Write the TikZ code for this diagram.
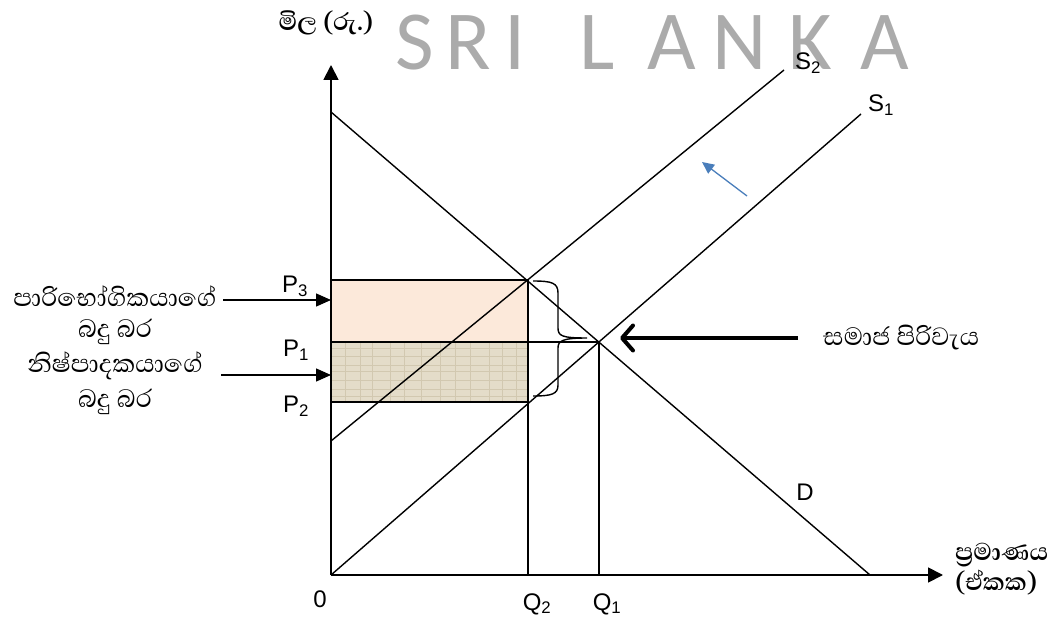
\documentclass[tikz,border=0pt]{standalone}
\usepackage{fontspec}
\setmainfont{Liberation Sans}
\newfontfamily\sinhfont[Script=Sinhala]{Abhaya Libre}
\newfontfamily\wmfont{Carlito}
\usetikzlibrary{arrows.meta}
\definecolor{pinkfill}{HTML}{FCE9DA}
\definecolor{beige}{HTML}{E4DCC9}
\definecolor{beigeline}{HTML}{D2C8B0}
\definecolor{wmgray}{HTML}{ABABAB}
\definecolor{bluearr}{HTML}{4A7EBB}
\tikzset{
  ln/.style={line width=1.4pt},
  axis/.style={line width=1.8pt,-{Triangle[length=15pt,width=15pt]}},
  ptr/.style={line width=1.4pt,-{Triangle[length=15pt,width=13pt]}},
  lbl/.style={font=\fontsize{24}{26}\selectfont,inner sep=0pt},
  stxt/.style={font=\sinhfont\fontsize{32}{34}\selectfont,inner sep=0pt,anchor=base},
  sbold/.style={font=\sinhfont\bfseries\fontsize{31}{34}\selectfont,inner sep=0pt,anchor=base},
  wmletter/.style={font=\wmfont\fontsize{84}{90}\selectfont,text=wmgray,inner sep=0pt,anchor=base}
}
\begin{document}
\begin{tikzpicture}[x=1pt,y=-1pt]
\useasboundingbox (0,0) rectangle (1060,617);
% watermark
\foreach \c/\x in {S/415,R/468,I/515,L/597,A/672,N/740,K/810,A/885}{
  \node[wmletter] at (\x,70) {\c};
}
% coordinates
\coordinate (O) at (331,575);
\coordinate (Ytop) at (331,65);
\coordinate (Xend) at (943,575);
\coordinate (Dtop) at (331,112);
\coordinate (Dbot) at (870,575);
\coordinate (S1b) at (861,114);
\coordinate (S2a) at (331,441);
\coordinate (S2b) at (784,70);
\coordinate (E0) at (528,280);
\coordinate (E1) at (599,342);
\coordinate (E2) at (528,402);
\coordinate (P3) at (331,280);
\coordinate (P1) at (331,342);
\coordinate (P2) at (331,402);
\coordinate (Q2) at (528,575);
\coordinate (Q1) at (599,575);
% shaded rectangles
\fill[pinkfill] (P3) rectangle (E1 -| E0);
\fill[beige] (P1) rectangle (E2);
\foreach \yy in {348,356,365,371,380,389,396}{
  \draw[beigeline,line width=0.6pt] (331,\yy) -- (528,\yy);
}
\foreach \xx in {345,360,372,390,404,421,440,455,470,489,502,516}{
  \draw[beigeline,line width=0.6pt] (\xx,342) -- (\xx,402);
}
% rect borders
\draw[ln] (P3) -- (E0);
\draw[ln] (P1) -- (E1);
\draw[ln] (P2) -- (E2);
\draw[ln] (E0) -- (Q2);
\draw[ln] (E1) -- (Q1);
% curves
\draw[ln] (Dtop) -- (Dbot);
\draw[ln] (O) -- (S1b);
\draw[ln] (S2a) -- (S2b);
% axes
\draw[axis] (O) -- (Ytop);
\draw[axis] (O) -- (Xend);
% brace
\draw[line width=1.4pt] (533,281) .. controls (552,281) and (558,283) .. (558,293)
  -- (558,328) .. controls (558,336) and (562,338) .. (587,338)
  .. controls (562,338) and (558,341) .. (558,348)
  -- (558,385) .. controls (558,394) and (552,396) .. (533,396);
% thick arrow
\coordinate (SCa) at (798,338);
\coordinate (SCb) at (620,338);
\draw[line width=4pt,-{Straight Barb[length=11pt,width=25pt,round]}] (SCa) -- (SCb);
% blue arrow
\coordinate (Ba) at (747,196);
\coordinate (Bb) at (702,162);
\draw[bluearr,line width=1.3pt,-{Triangle[length=12pt,width=11pt]}] (Ba) -- (Bb);
% left pointer arrows
\coordinate (La) at (223,300);
\coordinate (Lb) at (221,375);
\draw[ptr] (La) -- (P3 |- La);
\draw[ptr] (Lb) -- (P3 |- Lb);
% labels
\node[lbl,anchor=base] (lP3) at (295,293) {P\textsubscript{3}};
\node[lbl,anchor=base] (lP1) at (296,357) {P\textsubscript{1}};
\node[lbl,anchor=base] (lP2) at (296,413) {P\textsubscript{2}};
\node[lbl,anchor=base] (l0) at (320,607) {0};
\node[lbl,anchor=base] (lQ2) at (537,610) {Q\textsubscript{2}};
\node[lbl,anchor=base] (lQ1) at (607,610) {Q\textsubscript{1}};
\node[lbl,anchor=base] (lD) at (805,500) {D};
\node[lbl,anchor=base west] (lS2) at (795,70) {S\textsubscript{2}};
\node[lbl,anchor=base west] (lS1) at (868,112) {S\textsubscript{1}};
% Sinhala labels
\node[sbold] (ylab) at (326,31) {මිල (රු.)};
\node[stxt] (t1) at (115,307) {පාරිභෝගිකයාගේ};
\node[stxt] (t2) at (115,338) {බදු බර};
\node[stxt] (t3) at (115,373) {නිෂ්පාදකයාගේ};
\node[stxt] (t4) at (115,407) {බදු බර};
\node[stxt,anchor=base west] (sc) at (823,346) {සමාජ පිරිවැය};
\node[sbold,anchor=base west] (xl1) at (955,560) {ප්‍රමාණය};
\node[sbold,anchor=base west] (xl2) at (955,590) {(ඒකක)};
\end{tikzpicture}
\end{document}
